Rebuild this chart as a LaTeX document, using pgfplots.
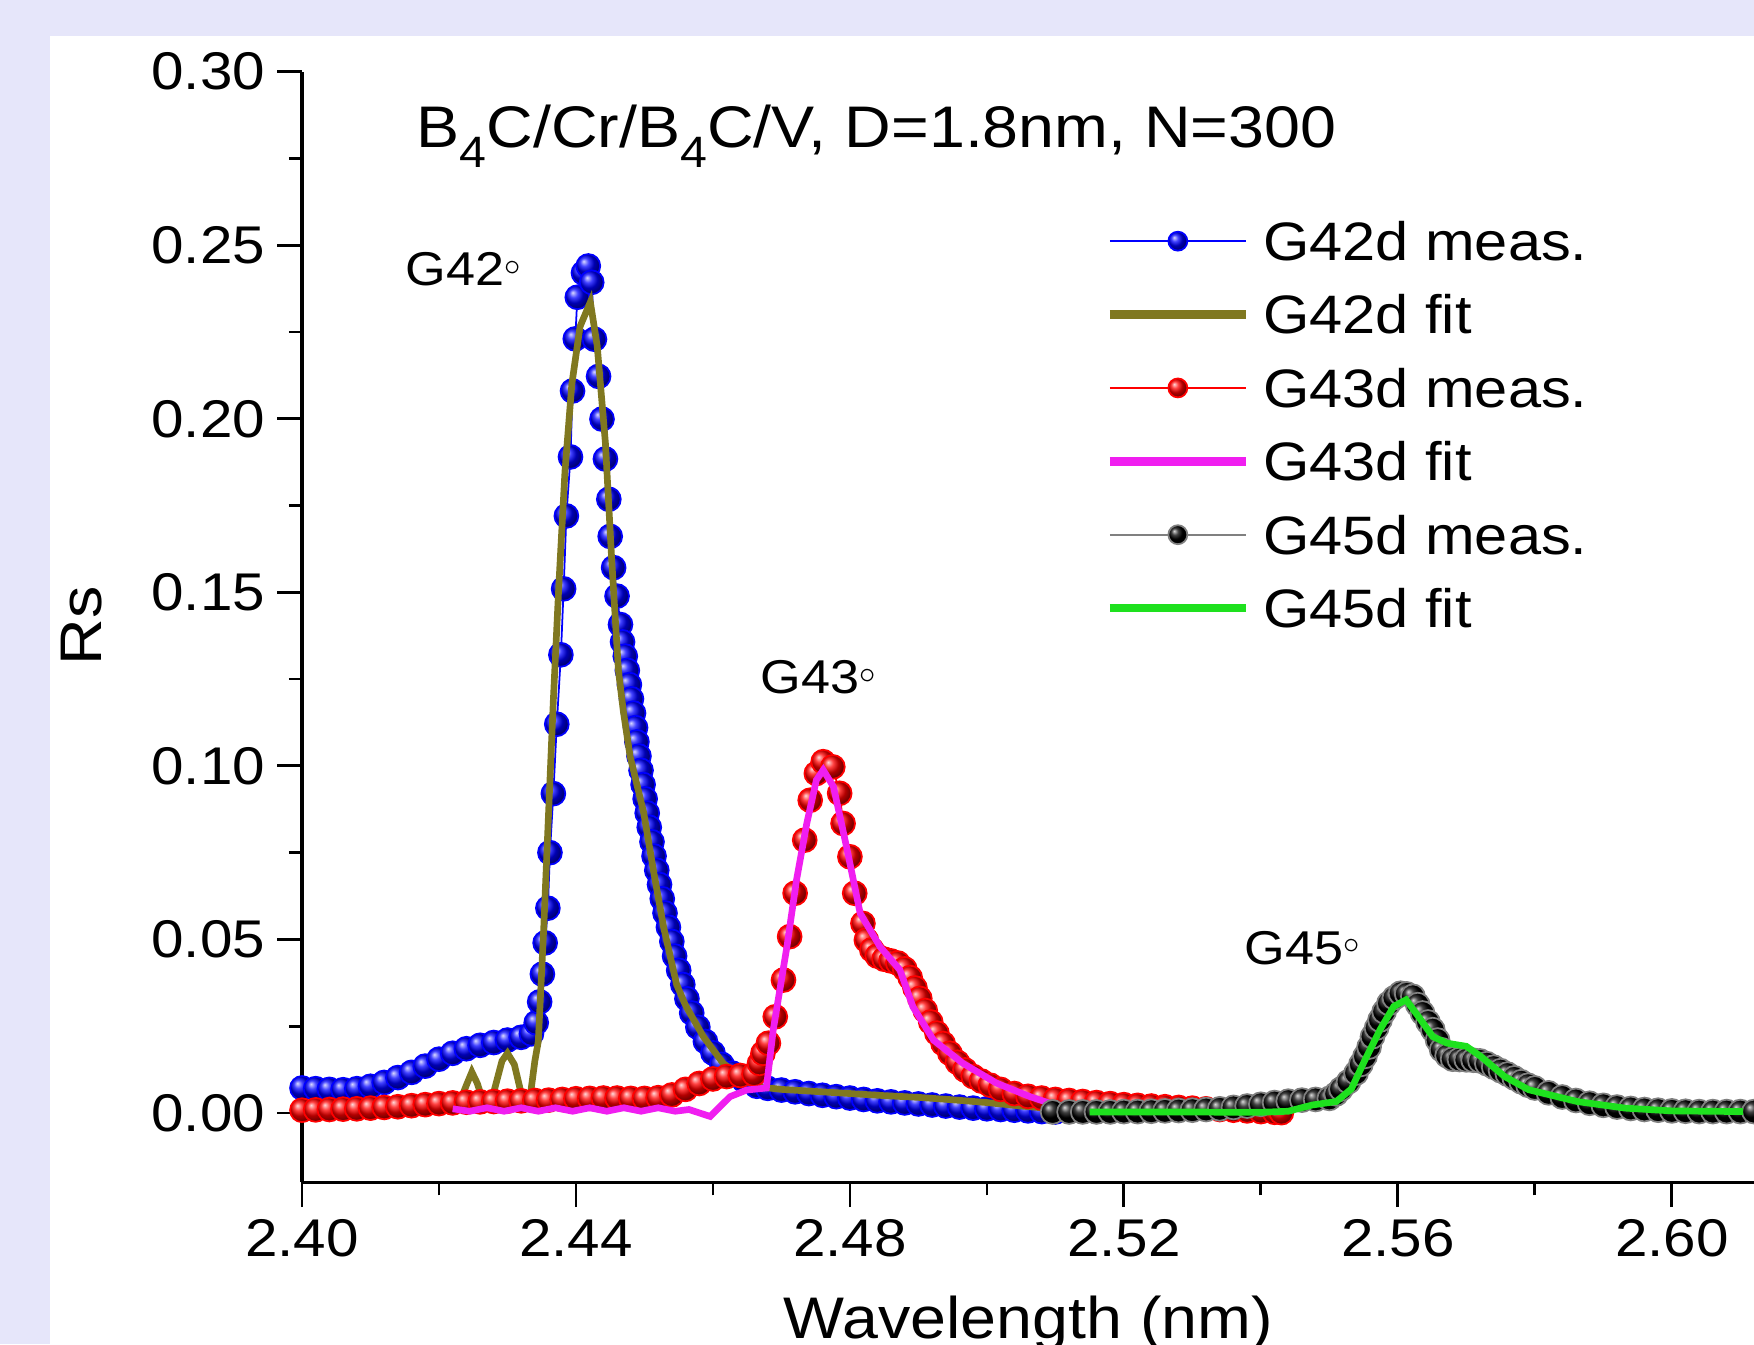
\documentclass[border=0pt]{standalone}
\usepackage{pgfplots}
\usepackage{pgfplotstable}
\pgfplotsset{compat=1.18}
\usepackage{fontspec}
\setmainfont{Liberation Sans}[FakeStretch=1.1]
\definecolor{bgl}{RGB}{230,230,250}
\definecolor{olivefit}{RGB}{128,120,32}
\definecolor{magfit}{RGB}{240,30,240}
\definecolor{greenfit}{RGB}{30,225,30}

\pgfplotstableread{
x y
2.400 0.0072
2.402 0.0070
2.404 0.0068
2.406 0.0067
2.408 0.0070
2.410 0.0077
2.412 0.0088
2.414 0.0102
2.416 0.0117
2.418 0.0135
2.420 0.0155
2.422 0.0172
2.424 0.0185
2.426 0.0195
2.428 0.0203
2.430 0.0210
2.432 0.0218
2.4335 0.0228
2.4342 0.0260
2.4347 0.0320
2.4351 0.0400
2.4355 0.0490
2.4359 0.0590
2.4362 0.0750
2.4367 0.0920
2.4372 0.1120
2.4378 0.1320
2.4382 0.1510
2.4386 0.1720
2.4392 0.1890
2.4395 0.2080
2.4399 0.2230
2.4402 0.2350
2.4411 0.2420
2.4418 0.2440
2.4423 0.2393
2.4427 0.2229
2.4433 0.2122
2.4438 0.1999
2.4443 0.1884
2.4448 0.1768
2.4450 0.1661
2.4455 0.1571
2.4460 0.1489
2.4465 0.1407
2.4468 0.1357
2.4472 0.1316
2.4475 0.1275
2.4478 0.1234
2.4481 0.1193
2.4484 0.1152
2.4487 0.1110
2.4489 0.1069
2.4492 0.1028
2.4495 0.0987
2.4498 0.0946
2.4501 0.0905
2.4504 0.0864
2.4507 0.0823
2.4511 0.0781
2.4514 0.0740
2.4518 0.0699
2.4522 0.0658
2.4526 0.0617
2.4530 0.0576
2.4535 0.0535
2.4540 0.0494
2.4544 0.0452
2.4550 0.0411
2.4556 0.0370
2.4562 0.0329
2.4569 0.0288
2.4578 0.0247
2.4589 0.0206
2.4600 0.0173
2.4613 0.0140
2.4628 0.0115
2.4645 0.0094
2.4664 0.0077
2.468 0.0071
2.470 0.0066
2.472 0.0061
2.474 0.0056
2.476 0.0051
2.478 0.0047
2.480 0.0043
2.482 0.0039
2.484 0.0035
2.486 0.0032
2.488 0.0029
2.490 0.0026
2.492 0.0023
2.494 0.0020
2.496 0.0017
2.498 0.0014
2.500 0.0012
2.502 0.0010
2.504 0.0008
2.506 0.0006
2.508 0.0004
2.510 0.0003
}\bluemeas

\pgfplotstableread{
x y
2.4200 0.0020
2.4215 0.0040
2.4230 0.0030
2.4240 0.0080
2.4248 0.0118
2.4256 0.0085
2.4265 0.0030
2.4280 0.0060
2.4292 0.0150
2.4300 0.0172
2.4310 0.0140
2.4322 0.0040
2.4332 0.0030
2.4340 0.0150
2.4345 0.0206
2.4353 0.0535
2.4360 0.0864
2.4367 0.1190
2.4375 0.1520
2.4384 0.1850
2.4394 0.2100
2.4406 0.2266
2.4421 0.2336
2.4431 0.2210
2.4443 0.1930
2.4452 0.1600
2.4462 0.1275
2.4469 0.1160
2.4479 0.1028
2.4499 0.0864
2.4513 0.0700
2.4528 0.0535
2.4547 0.0370
2.4560 0.0310
2.4586 0.0220
2.4615 0.0143
2.4650 0.0090
2.4673 0.0074
2.4700 0.0068
2.4750 0.0062
2.4800 0.0056
2.4850 0.0050
2.4900 0.0045
2.4950 0.0038
2.5000 0.0030
2.5050 0.0020
2.5080 0.0015
}\olivefit

\pgfplotstableread{
x y
2.400 0.0008
2.402 0.0009
2.404 0.0010
2.406 0.0011
2.408 0.0012
2.410 0.0014
2.412 0.0016
2.414 0.0018
2.416 0.0021
2.418 0.0024
2.420 0.0027
2.422 0.0029
2.424 0.0031
2.426 0.0032
2.428 0.0033
2.430 0.0034
2.432 0.0035
2.434 0.0036
2.436 0.0037
2.438 0.0039
2.440 0.0041
2.442 0.0042
2.444 0.0043
2.446 0.0043
2.448 0.0042
2.450 0.0042
2.452 0.0044
2.454 0.0052
2.456 0.0068
2.458 0.0085
2.460 0.0098
2.462 0.0105
2.464 0.0108
2.4660 0.0112
2.4668 0.0143
2.4673 0.0172
2.4681 0.0201
2.4691 0.0277
2.4703 0.0383
2.4712 0.0508
2.4720 0.0633
2.4734 0.0786
2.4742 0.0901
2.4751 0.0978
2.4761 0.1012
2.4775 0.0997
2.4785 0.0921
2.4790 0.0834
2.4800 0.0738
2.4807 0.0633
2.4819 0.0546
2.4824 0.0498
2.4832 0.0470
2.4840 0.0452
2.4850 0.0443
2.4860 0.0438
2.4870 0.0432
2.4880 0.0415
2.4888 0.0390
2.4895 0.0360
2.4902 0.0330
2.4910 0.0295
2.4918 0.0262
2.4927 0.0230
2.4936 0.0200
2.4946 0.0172
2.4957 0.0146
2.4968 0.0124
2.4980 0.0105
2.4992 0.0092
2.5005 0.0080
2.502 0.0068
2.504 0.0056
2.506 0.0048
2.508 0.0043
2.510 0.0039
2.512 0.0036
2.514 0.0033
2.516 0.0030
2.518 0.0027
2.520 0.0024
2.522 0.0022
2.524 0.0020
2.526 0.0018
2.528 0.0016
2.530 0.0014
2.532 0.0012
2.534 0.0010
2.536 0.0008
2.538 0.0006
2.540 0.0004
2.542 0.0002
2.543 0.0001
}\redmeas

\pgfplotstableread{
x y
2.4220 0.0012
2.4245 0.0005
2.4270 0.0015
2.4295 0.0005
2.4320 0.0015
2.4345 0.0005
2.4370 0.0015
2.4395 0.0005
2.4420 0.0015
2.4445 0.0005
2.4470 0.0015
2.4495 0.0005
2.4520 0.0015
2.4545 0.0005
2.4565 0.0010
2.4596 -0.0010
2.4625 0.0047
2.4649 0.0066
2.4678 0.0072
2.4688 0.0239
2.4708 0.0479
2.4722 0.0671
2.4737 0.0834
2.4751 0.0959
2.4761 0.0988
2.4776 0.0940
2.4795 0.0767
2.4815 0.0575
2.4844 0.0479
2.4873 0.0412
2.4892 0.0306
2.4922 0.0210
2.4965 0.0143
2.5014 0.0086
2.5063 0.0047
2.5092 0.0028
}\magfit

\pgfplotstableread{
x y
2.5096 0.0003
2.512 0.0003
2.514 0.0003
2.516 0.0003
2.518 0.0003
2.520 0.0004
2.522 0.0004
2.524 0.0005
2.526 0.0006
2.528 0.0007
2.530 0.0008
2.532 0.0010
2.534 0.0012
2.536 0.0016
2.538 0.0020
2.540 0.0025
2.542 0.0030
2.544 0.0034
2.546 0.0037
2.548 0.0039
2.550 0.0042
2.5510 0.0055
2.5517 0.0069
2.5528 0.0090
2.5539 0.0115
2.5546 0.0140
2.5552 0.0163
2.5558 0.0190
2.5563 0.0220
2.5569 0.0245
2.5574 0.0268
2.5580 0.0292
2.5587 0.0316
2.5595 0.0332
2.5604 0.0345
2.5613 0.0343
2.5622 0.0336
2.5629 0.0312
2.5636 0.0288
2.5644 0.0262
2.5651 0.0240
2.5658 0.0210
2.5664 0.0182
2.5672 0.0165
2.5680 0.0155
2.5690 0.0154
2.5700 0.0153
2.5710 0.0152
2.5720 0.0150
2.5730 0.0142
2.5740 0.0132
2.5750 0.0122
2.5760 0.0112
2.5770 0.0101
2.5780 0.0090
2.5790 0.0080
2.5800 0.0072
2.582 0.0058
2.584 0.0046
2.586 0.0036
2.588 0.0028
2.590 0.0022
2.592 0.0017
2.594 0.0013
2.596 0.0010
2.598 0.0008
2.600 0.0006
2.602 0.0005
2.604 0.0004
2.606 0.0004
2.608 0.0004
2.610 0.0004
2.612 0.0004
}\blackmeas

\pgfplotstableread{
x y
2.5150 0.0003
2.5200 0.0003
2.5250 0.0003
2.5300 0.0003
2.5350 0.0002
2.5400 0.0002
2.5440 0.0005
2.5475 0.0023
2.5510 0.0033
2.5532 0.0069
2.5552 0.0153
2.5574 0.0240
2.5594 0.0307
2.5612 0.0326
2.5630 0.0278
2.5651 0.0220
2.5672 0.0201
2.5700 0.0192
2.5721 0.0163
2.5756 0.0105
2.5791 0.0067
2.5862 0.0033
2.5932 0.0014
2.6000 0.0006
2.6104 0.0004
}\greenfit

\pgfplotsset{
  measleg/.style={legend image code/.code={%
    \path (0cm,0cm) (1.50cm,0cm);
    \draw[mark repeat=2,mark phase=2,##1,mark size=2.7pt] plot coordinates {(0cm,0cm) (0.68cm,0cm) (1.36cm,0cm)};}},
  fitleg/.style={legend image code/.code={%
    \path (0cm,0cm) (1.50cm,0cm);
    \draw[##1, line width=2.4pt] (0cm,0cm) -- (1.36cm,0cm);}},
}

\begin{document}
\begin{tikzpicture}
\useasboundingbox (0,0) rectangle (17.54,13.44);
\fill[bgl] (0,0) rectangle (17.54,13.44);
\fill[white] (0.50,0) rectangle (17.54,13.08);
\begin{axis}[
  at={(3.02cm,1.616cm)}, anchor=south west,
  scale only axis, width=14.52cm, height=11.108cm,
  xmin=2.40, xmax=2.612, ymin=-0.02, ymax=0.30,
  clip mode=individual,
  axis lines*=left,
  axis line style={line width=0.9pt, black},
  xtick={2.40,2.44,2.48,2.52,2.56,2.60},
  ytick={0,0.05,0.10,0.15,0.20,0.25,0.30},
  minor x tick num=1, minor y tick num=1,
  tick align=outside,
  major tick length=0.246cm, minor tick length=0.13cm,
  tick style={line width=0.8pt, black},
  /pgf/number format/assume math mode=true,
  xticklabel style={/pgf/number format/.cd, fixed, fixed zerofill, precision=2},
  yticklabel style={/pgf/number format/.cd, fixed, fixed zerofill, precision=2},
  tick label style={font=\fontsize{15.1}{18}\selectfont},
  legend style={at={(axis description cs:0.553,0.8654)}, anchor=north west,
    draw=none, fill=none, inner sep=0pt, row sep=9.88pt,
    font=\fontsize{15.4}{18}\selectfont,
    nodes={inner sep=0pt, text height=11pt, text depth=0pt, anchor=west}},
]
\addplot[blue, line width=0.5pt, mark=ball, mark options={ball color=blue}, mark size=3.4pt, measleg] table {\bluemeas};
\addlegendentry{G42d meas.}
\addplot[olivefit, line width=1.9pt, fitleg] table {\olivefit};
\addlegendentry{G42d fit}
\addplot[red, line width=0.5pt, mark=ball, mark options={ball color=red}, mark size=3.4pt, measleg] table {\redmeas};
\addlegendentry{G43d meas.}
\addplot[magfit, line width=1.9pt, fitleg] table {\magfit};
\addlegendentry{G43d fit}
\addplot[gray, line width=0.5pt, mark=ball, mark options={ball color=black}, mark size=3.4pt, measleg] table {\blackmeas};
\addlegendentry{G45d meas.}
\addplot[greenfit, line width=1.9pt, fitleg] table {\greenfit};
\addlegendentry{G45d fit}
\node[anchor=base west, inner sep=0pt, font=\fontsize{13.5}{16}\selectfont] at (axis cs:2.415,0.2383) {G42\raisebox{0.22em}{$\scriptstyle\circ$}};
\node[anchor=base west, inner sep=0pt, font=\fontsize{13.5}{16}\selectfont] at (axis cs:2.4669,0.1208) {G43\raisebox{0.22em}{$\scriptstyle\circ$}};
\node[anchor=base west, inner sep=0pt, font=\fontsize{13.5}{16}\selectfont] at (axis cs:2.5375,0.0428) {G45\raisebox{0.22em}{$\scriptstyle\circ$}};
\end{axis}
\node[anchor=base west, inner sep=0pt, font=\fontsize{16.7}{20}\selectfont] at (4.16,11.963)
  {B\raisebox{-5.7pt}{\fontsize{12.5}{14}\selectfont 4}C/Cr/B\raisebox{-5.7pt}{\fontsize{12.5}{14}\selectfont 4}C/V, D=1.8nm, N=300};
\node[rotate=90, inner sep=0pt, font=\fontsize{16.7}{20}\selectfont] at (0.82,7.18) {Rs};
\node[anchor=base west, inner sep=0pt, font=\fontsize{16.7}{20}\selectfont] at (7.83,0.06) {Wavelength (nm)};
\end{tikzpicture}
\end{document}
